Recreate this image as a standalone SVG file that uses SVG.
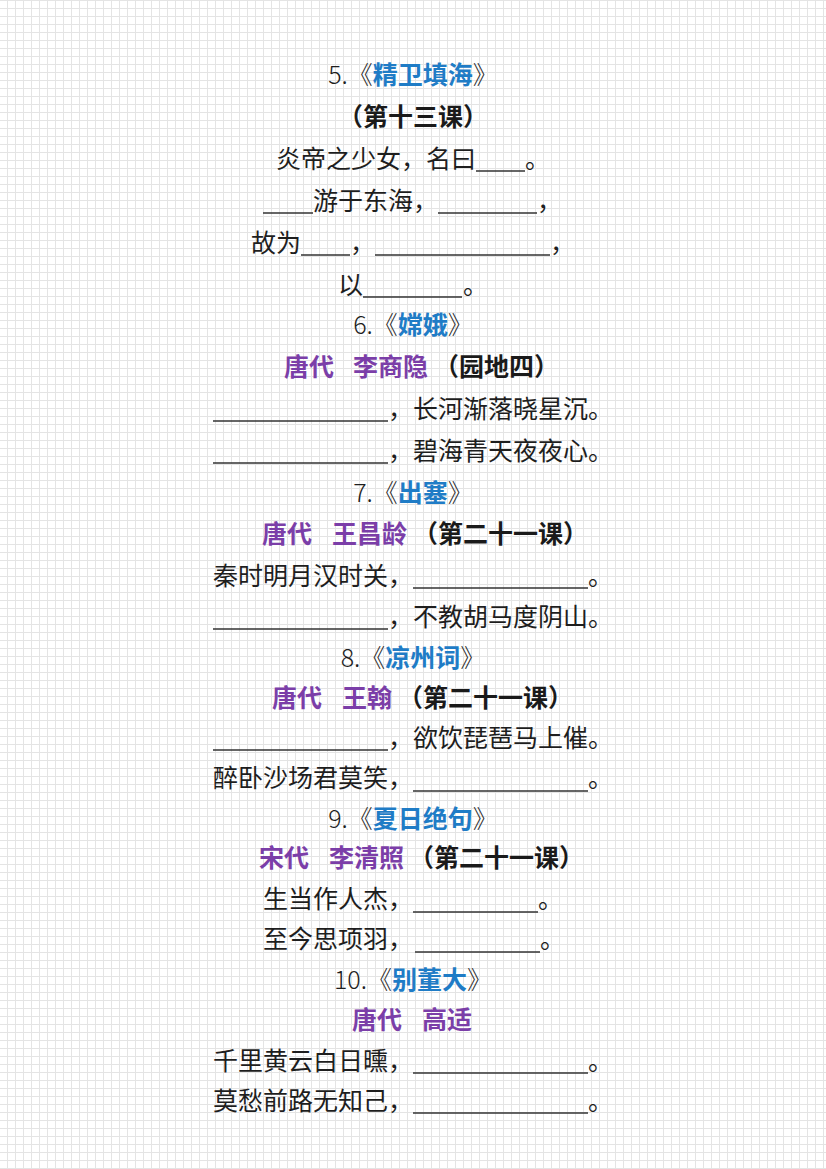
<svg xmlns="http://www.w3.org/2000/svg" width="826" height="1169" viewBox="0 0 826 1169">
<style>
text{font-family:"Noto Sans CJK SC","Noto Sans",sans-serif;font-size:25px;fill:#1e1e1e}
.num{font-weight:300;fill:#1e1e1e}
.blue{font-weight:700;fill:#1f7cc6}
.pur{font-weight:700;fill:#7b3ea8}
.bold{font-weight:700;fill:#1a1a1a}
.blank{stroke:#333;stroke-width:1.5}
</style>
<defs>
<pattern id="grid" x="7" y="0" width="8" height="8" patternUnits="userSpaceOnUse">
<path d="M0.5 0V8M0 0.5H8" stroke="#e4e4e4" stroke-width="1" fill="none"/>
</pattern>
</defs>
<rect width="826" height="1169" fill="#fff"/>
<rect width="826" height="1169" fill="url(#grid)"/>

<g id="poem5">
<text x="413" y="83.5" text-anchor="middle"><tspan class="num">5.《</tspan><tspan class="blue">精卫填海</tspan><tspan class="num">》</tspan></text>
<text class="bold" x="413" y="125.5" text-anchor="middle">（第十三课）</text>
<text x="276" y="167.5">炎帝之少女，名曰</text><line class="blank" x1="476" y1="171" x2="525" y2="171"/><text x="525" y="167.5">。</text>
<line class="blank" x1="263" y1="213" x2="313" y2="213"/><text x="313" y="209.5">游于东海，</text><line class="blank" x1="438" y1="213" x2="537" y2="213"/><text x="537" y="209.5">，</text>
<text x="251" y="251.5">故为</text><line class="blank" x1="301" y1="255" x2="350" y2="255"/><text x="350" y="251.5">，</text><line class="blank" x1="375" y1="255" x2="550" y2="255"/><text x="550" y="251.5">，</text>
<text x="338" y="293.5">以</text><line class="blank" x1="363" y1="297" x2="462" y2="297"/><text x="463" y="293.5">。</text>
</g>

<g id="poem6">
<text x="413" y="333.5" text-anchor="middle"><tspan class="num">6.《</tspan><tspan class="blue">嫦娥</tspan><tspan class="num">》</tspan></text>
<text class="pur" x="284" y="375.5">唐代</text><text class="pur" x="353" y="375.5">李商隐</text><text class="bold" x="434" y="375.5">（园地四）</text>
<line class="blank" x1="213" y1="421" x2="388" y2="421"/><text x="388" y="417.5">，长河渐落晓星沉。</text>
<line class="blank" x1="213" y1="463" x2="388" y2="463"/><text x="388" y="459.5">，碧海青天夜夜心。</text>
</g>

<g id="poem7">
<text x="413" y="501.5" text-anchor="middle"><tspan class="num">7.《</tspan><tspan class="blue">出塞</tspan><tspan class="num">》</tspan></text>
<text class="pur" x="262" y="542.5">唐代</text><text class="pur" x="332" y="542.5">王昌龄</text><text class="bold" x="413" y="542.5">（第二十一课）</text>
<text x="213" y="584.5">秦时明月汉时关，</text><line class="blank" x1="413" y1="588" x2="588" y2="588"/><text x="588" y="584.5">。</text>
<line class="blank" x1="213" y1="629" x2="388" y2="629"/><text x="388" y="625.5">，不教胡马度阴山。</text>
</g>

<g id="poem8">
<text x="413" y="666.5" text-anchor="middle"><tspan class="num">8.《</tspan><tspan class="blue">凉州词</tspan><tspan class="num">》</tspan></text>
<text class="pur" x="272" y="706.5">唐代</text><text class="pur" x="342" y="706.5">王翰</text><text class="bold" x="398" y="706.5">（第二十一课）</text>
<line class="blank" x1="213" y1="750" x2="388" y2="750"/><text x="388" y="746.5">，欲饮琵琶马上催。</text>
<text x="213" y="786.5">醉卧沙场君莫笑，</text><line class="blank" x1="413" y1="791" x2="588" y2="791"/><text x="588" y="786.5">。</text>
</g>

<g id="poem9">
<text x="413" y="827.5" text-anchor="middle"><tspan class="num">9.《</tspan><tspan class="blue">夏日绝句</tspan><tspan class="num">》</tspan></text>
<text class="pur" x="259" y="866.5">宋代</text><text class="pur" x="329" y="866.5">李清照</text><text class="bold" x="409" y="866.5">（第二十一课）</text>
<text x="263" y="907.5">生当作人杰，</text><line class="blank" x1="413" y1="912" x2="538" y2="912"/><text x="538" y="907.5">。</text>
<text x="263" y="947.5">至今思项羽，</text><line class="blank" x1="415" y1="952" x2="540" y2="952"/><text x="540" y="947.5">。</text>
</g>

<g id="poem10">
<text x="413" y="988.5" text-anchor="middle"><tspan class="num">10.《</tspan><tspan class="blue">别董大</tspan><tspan class="num">》</tspan></text>
<text class="pur" x="352" y="1028.5">唐代</text><text class="pur" x="422" y="1028.5">高适</text>
<text x="213" y="1069.5">千里黄云白日曛，</text><line class="blank" x1="413" y1="1073" x2="588" y2="1073"/><text x="588" y="1069.5">。</text>
<text x="213" y="1109.5">莫愁前路无知己，</text><line class="blank" x1="413" y1="1113" x2="588" y2="1113"/><text x="588" y="1109.5">。</text>
</g>
<g id="connectors"/>
</svg>
